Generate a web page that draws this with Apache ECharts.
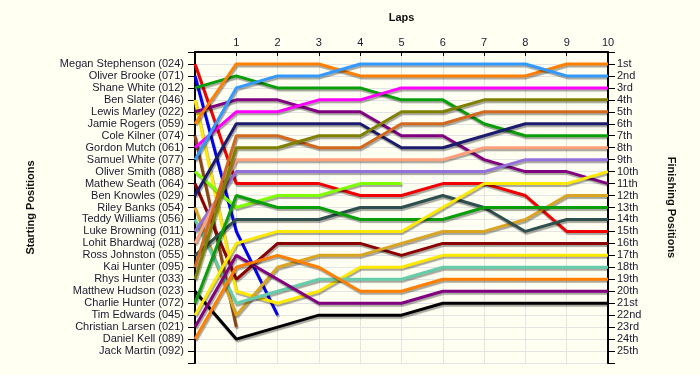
<!DOCTYPE html>
<html><head><meta charset="utf-8">
<script src="https://cdn.jsdelivr.net/npm/echarts@6/dist/echarts.min.js"></script>
<style>html,body{margin:0;padding:0;background:#fffff2;}#c{width:700px;height:375px;}</style>
</head><body><div id="c"></div>
<script>
// Lap tick labels (lap 0 = grid start)
const lapLabels = ['', '1', '2', '3', '4', '5', '6', '7', '8', '9', '10'];
// Starting grid (y-axis left), position 1..25
const startLabels = ['Megan Stephenson (024)', 'Oliver Brooke (071)', 'Shane White (012)', 'Ben Slater (046)',
  'Lewis Marley (022)', 'Jamie Rogers (059)', 'Cole Kilner (074)', 'Gordon Mutch (061)', 'Samuel White (077)',
  'Oliver Smith (088)', 'Mathew Seath (064)', 'Ben Knowles (029)', 'Riley Banks (054)', 'Teddy Williams (056)',
  'Luke Browning (011)', 'Lohit Bhardwaj (028)', 'Ross Johnston (055)', 'Kai Hunter (095)', 'Rhys Hunter (033)',
  'Matthew Hudson (023)', 'Charlie Hunter (072)', 'Tim Edwards (045)', 'Christian Larsen (021)', 'Daniel Kell (089)',
  'Jack Martin (092)'];
const finishLabels = ['1st', '2nd', '3rd', '4th', '5th', '6th', '7th', '8th', '9th', '10th', '11th', '12th', '13th',
  '14th', '15th', '16th', '17th', '18th', '19th', '20th', '21st', '22nd', '23rd', '24th', '25th'];

// Position per lap (index = lap 0..10)
const meganStephenson = [1, 11, 11, 11, 12, 12, 11, 11, 12, 15, 15];
const oliverBrooke    = [2, 15, 22];
const shaneWhite      = [3, 2, 3, 3, 3, 4, 4, 6, 7, 7, 7];
const benSlater       = [4, 20, 21, 20, 18, 18, 17, 17, 17, 17, 17];
const lewisMarley     = [5, 4, 4, 5, 5, 7, 7, 9, 10, 10, 11];
const jamieRogers     = [6, 1, 1, 1, 2, 2, 2, 2, 2, 1, 1];
const coleKilner      = [7, 23];
const gordonMutch     = [8, 5, 5, 4, 4, 3, 3, 3, 3, 3, 3];
const samuelWhite     = [9, 3, 2, 2, 1, 1, 1, 1, 1, 2, 2];
const oliverSmith     = [10, 13, 12, 12, 11, 11];
const mathewSeath     = [11, 19, 16, 16, 16, 17, 16, 16, 16, 16, 16];
const benKnowles      = [12, 6, 6, 6, 6, 8, 8, 7, 6, 6, 6];
const rileyBanks      = [13, 22, 18, 17, 17, 16, 15, 15, 14, 12, 12];
const teddyWilliams   = [14, 21, 20, 19, 19, 19, 18, 18, 18, 18, 18];
const lukeBrowning    = [15, 10, 10, 10, 10, 10, 10, 10, 9, 9, 9];
const lohitBhardwaj   = [16, 9, 9, 9, 9, 9, 9, 8, 8, 8, 8];
const rossJohnston    = [17, 14, 14, 14, 13, 13, 12, 13, 15, 14, 14];
const kaiHunter       = [18, 7, 7, 8, 8, 6, 6, 5, 5, 5, 5];
const rhysHunter      = [19, 8, 8, 7, 7, 5, 5, 4, 4, 4, 4];
const matthewHudson   = [20, 24, 23, 22, 22, 22, 21, 21, 21, 21, 21];
const charlieHunter   = [21, 12, 13, 13, 14, 14, 14, 13, 13, 13, 13];
const timEdwards      = [22, 16, 15, 15, 15, 15, 13, 11, 11, 11, 10];
const christianLarsen = [23, 17, 19, 21, 21, 21, 20, 20, 20, 20, 20];
const danielKell      = [24, 18, 17, 18, 20, 20, 19, 19, 19, 19, 19];

const driverData = [meganStephenson, oliverBrooke, shaneWhite, benSlater, lewisMarley, jamieRogers, coleKilner,
  gordonMutch, samuelWhite, oliverSmith, mathewSeath, benKnowles, rileyBanks, teddyWilliams, lukeBrowning,
  lohitBhardwaj, rossJohnston, kaiHunter, rhysHunter, matthewHudson, charlieHunter, timEdwards,
  christianLarsen, danielKell];
const driverColors = ['#f00000', '#0000f0', '#0a9e0a', '#ffe800', '#800080', '#ff8000', '#8b4513',
  '#ff00ff', '#3399ff', '#80ff00', '#8b0000', '#1c1c6e', '#daa520', '#66cdaa', '#9370db',
  '#ffa07a', '#2f4f4f', '#d2691e', '#808000', '#000000', '#0a9e0a', '#ffe800', '#800080', '#ff8000'];

const series = driverData.map((arr, i) => ({
  name: startLabels[i],
  type: 'line',
  symbol: 'none',
  silent: true,
  animation: false,
  data: arr.map((p, lap) => [lap, p]),
  lineStyle: { color: driverColors[i], width: 3, shadowColor: 'rgba(0,0,0,0.35)', shadowOffsetX: 1, shadowOffsetY: 2, shadowBlur: 1 },
  z: 2
}));

const font = 'Liberation Sans';
const textColor = '#1a1a2e';
const chart = echarts.init(document.getElementById('c'), null, { renderer: 'canvas' });
chart.setOption({
  backgroundColor: '#fffff2',
  animation: false,
  grid: { left: 195, right: 92, top: 52, bottom: 12 },
  xAxis: {
    type: 'value', position: 'top', min: 0, max: 10, interval: 1,
    name: 'Laps', nameLocation: 'middle', nameGap: 29,
    nameTextStyle: { fontFamily: font, fontSize: 11, fontWeight: 'bold', color: '#111' },
    axisLine: { lineStyle: { color: '#000', width: 2 } },
    axisTick: { inside: true, length: 4, lineStyle: { color: '#000' } },
    axisLabel: { fontFamily: font, fontSize: 11, color: textColor, margin: 4, formatter: v => lapLabels[v] || '' },
    splitLine: { show: true, lineStyle: { color: '#e4e4e4', width: 1 } }
  },
  yAxis: [{
    type: 'value', position: 'left', inverse: true, min: 0, max: 26, interval: 1,
    name: 'Starting Positions', nameLocation: 'middle', nameGap: 159, nameRotate: 90,
    nameTextStyle: { fontFamily: font, fontSize: 11, fontWeight: 'bold', color: '#111' },
    axisLine: { show: true, lineStyle: { color: '#000', width: 2 } },
    axisTick: { show: true, length: 7, lineStyle: { color: '#000' } },
    axisLabel: { fontFamily: font, fontSize: 11, color: textColor, margin: 11, formatter: v => startLabels[v - 1] || '' },
    splitLine: { show: true, lineStyle: { color: '#e4e4e4', width: 1 } }
  }, {
    type: 'value', position: 'right', inverse: true, min: 0, max: 26, interval: 1,
    name: 'Finishing Positions', nameLocation: 'middle', nameGap: 58, nameRotate: -90,
    nameTextStyle: { fontFamily: font, fontSize: 11, fontWeight: 'bold', color: '#111' },
    axisLine: { show: true, lineStyle: { color: '#000', width: 2 } },
    axisTick: { show: true, length: 7, lineStyle: { color: '#000' } },
    axisLabel: { fontFamily: font, fontSize: 11, color: textColor, margin: 9, formatter: v => finishLabels[v - 1] || '' },
    splitLine: { show: false }
  }],
  series: series
});
</script></body></html>
